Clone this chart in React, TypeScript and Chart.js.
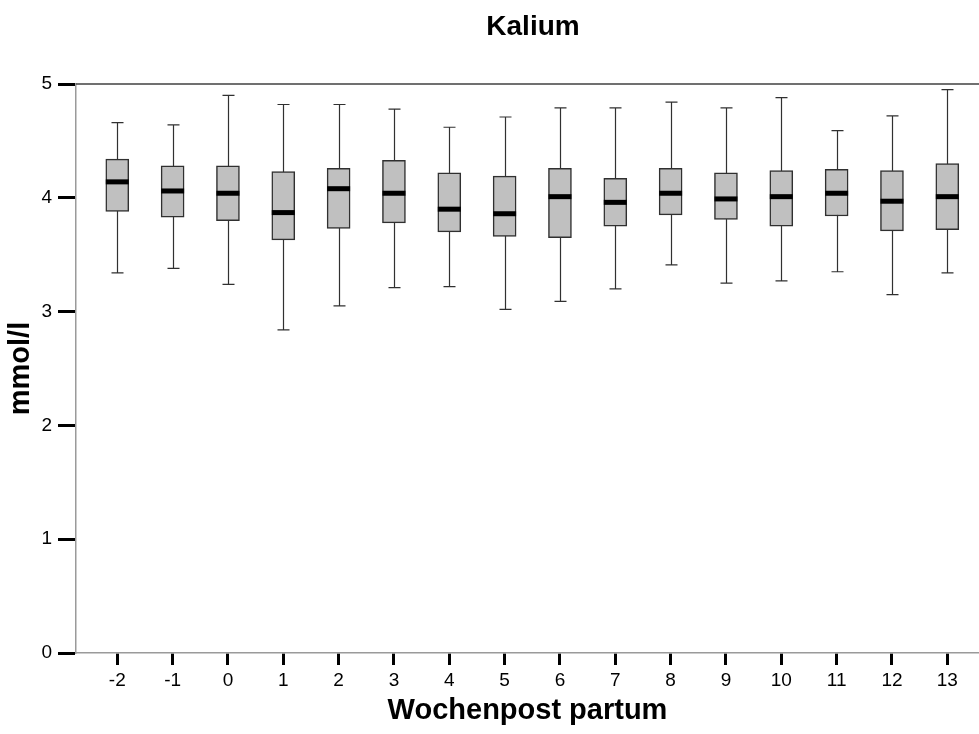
import { useEffect, useRef } from "react";
import { Chart, registerables } from "chart.js";

Chart.register(...registerables);

// Wochen post partum (x axis categories)
const weeks = [-2, -1, 0, 1, 2, 3, 4, 5, 6, 7, 8, 9, 10, 11, 12, 13];

// Kalium in mmol/l per week: whisker ends, quartiles and median
const whiskerLow = [3.34, 3.38, 3.24, 2.84, 3.05, 3.21, 3.22, 3.02, 3.09, 3.2, 3.41, 3.25, 3.27, 3.35, 3.15, 3.34];
const quartile1 = [3.88, 3.83, 3.8, 3.63, 3.73, 3.78, 3.7, 3.66, 3.65, 3.75, 3.85, 3.81, 3.75, 3.84, 3.71, 3.72];
const medians = [4.14, 4.06, 4.04, 3.87, 4.08, 4.04, 3.9, 3.86, 4.01, 3.96, 4.04, 3.99, 4.01, 4.04, 3.97, 4.01];
const quartile3 = [4.34, 4.28, 4.28, 4.23, 4.26, 4.33, 4.22, 4.19, 4.26, 4.17, 4.26, 4.22, 4.24, 4.25, 4.24, 4.3];
const whiskerHigh = [4.66, 4.64, 4.9, 4.82, 4.82, 4.78, 4.62, 4.71, 4.79, 4.79, 4.84, 4.79, 4.88, 4.59, 4.72, 4.95];

const yTicks = [0, 1, 2, 3, 4, 5];

const FONT = "'Liberation Sans', Arial, Helvetica, sans-serif";
const BOX_WIDTH = 23;
const CAP_HALF = 6;

// Whiskers behind the boxes, medians and title on top
const boxPlotPlugin = {
  id: "boxWhiskers",
  beforeDatasetsDraw(chart: any) {
    const { ctx, chartArea } = chart;
    const x = chart.scales.x;
    const y = chart.scales.y;
    ctx.save();
    // upper frame line
    ctx.strokeStyle = "#404040";
    ctx.lineWidth = 1.5;
    ctx.beginPath();
    ctx.moveTo(chartArea.left, chartArea.top);
    ctx.lineTo(chartArea.right, chartArea.top);
    ctx.stroke();

    ctx.strokeStyle = "#303030";
    ctx.lineWidth = 1.2;
    weeks.forEach((w, i) => {
      const px = Math.round(x.getPixelForValue(w)) + 0.5;
      const lo = y.getPixelForValue(whiskerLow[i]);
      const hi = y.getPixelForValue(whiskerHigh[i]);
      ctx.beginPath();
      ctx.moveTo(px, lo);
      ctx.lineTo(px, hi);
      ctx.moveTo(px - CAP_HALF, lo);
      ctx.lineTo(px + CAP_HALF, lo);
      ctx.moveTo(px - CAP_HALF, hi);
      ctx.lineTo(px + CAP_HALF, hi);
      ctx.stroke();
    });
    ctx.restore();
  },
  afterDatasetsDraw(chart: any) {
    const { ctx } = chart;
    const x = chart.scales.x;
    const y = chart.scales.y;
    ctx.save();
    ctx.fillStyle = "#000";
    weeks.forEach((w, i) => {
      const px = x.getPixelForValue(w);
      const py = y.getPixelForValue(medians[i]);
      ctx.fillRect(px - BOX_WIDTH / 2, py - 2.5, BOX_WIDTH, 5);
    });
    ctx.font = `bold 28px ${FONT}`;
    ctx.textAlign = "center";
    ctx.textBaseline = "middle";
    ctx.fillText("Kalium", 533, 27);
    ctx.restore();
  },
};

export default function App() {
  const canvasRef = useRef<HTMLCanvasElement | null>(null);

  useEffect(() => {
    if (!canvasRef.current) return;
    const chart = new Chart(canvasRef.current, {
      type: "bar",
      data: {
        datasets: [
          {
            data: weeks.map((w, i) => ({ x: w, y: [quartile1[i], quartile3[i]] })) as any,
            backgroundColor: "#c0c0c0",
            borderColor: "#303030",
            borderWidth: 1.5,
            borderSkipped: false,
            barThickness: BOX_WIDTH,
          },
        ],
      },
      options: {
        animation: false,
        responsive: true,
        maintainAspectRatio: false,
        layout: { padding: { top: 84, left: 0, right: 0, bottom: 0 } },
        plugins: {
          legend: { display: false },
          tooltip: { enabled: false },
          title: { display: false },
        },
        scales: {
          x: {
            type: "linear",
            min: -2.746,
            max: 13.573,
            offset: false,
            afterBuildTicks: (s: any) => {
              s.ticks = weeks.map((v) => ({ value: v }));
            },
            afterFit: (s: any) => {
              s.height = 81;
            },
            ticks: {
              color: "#000",
              font: { size: 19, family: FONT },
              padding: 4,
              autoSkip: false,
              maxRotation: 0,
              callback: (v: any) => String(v),
            },
            grid: {
              display: true,
              offset: false,
              drawOnChartArea: false,
              tickLength: 12,
              tickWidth: 3,
              tickColor: "#000",
            },
            border: { color: "#9a9a9a", width: 1.5 },
            title: {
              display: true,
              text: "Wochenpost partum",
              color: "#000",
              font: { size: 29, weight: "bold", family: FONT },
              padding: { top: 0, bottom: 6 },
            },
          },
          y: {
            type: "linear",
            min: 0,
            max: 5,
            afterBuildTicks: (s: any) => {
              s.ticks = yTicks.map((v) => ({ value: v }));
            },
            afterFit: (s: any) => {
              s.width = 76;
            },
            ticks: {
              color: "#000",
              font: { size: 19, family: FONT },
              padding: 6,
            },
            grid: {
              display: true,
              drawOnChartArea: false,
              tickLength: 18,
              tickWidth: 3,
              tickColor: "#000",
            },
            border: { color: "#9a9a9a", width: 1.5 },
            title: {
              display: true,
              text: "mmol/l",
              color: "#000",
              font: { size: 29, weight: "bold", family: FONT },
              padding: { top: 4, bottom: 0 },
            },
          },
        },
      },
      plugins: [boxPlotPlugin],
    });
    return () => chart.destroy();
  }, []);

  return (
    <div style={{ position: "absolute", left: 0, top: 0, width: 979, height: 734, background: "#fff" }}>
      <canvas ref={canvasRef} />
    </div>
  );
}
